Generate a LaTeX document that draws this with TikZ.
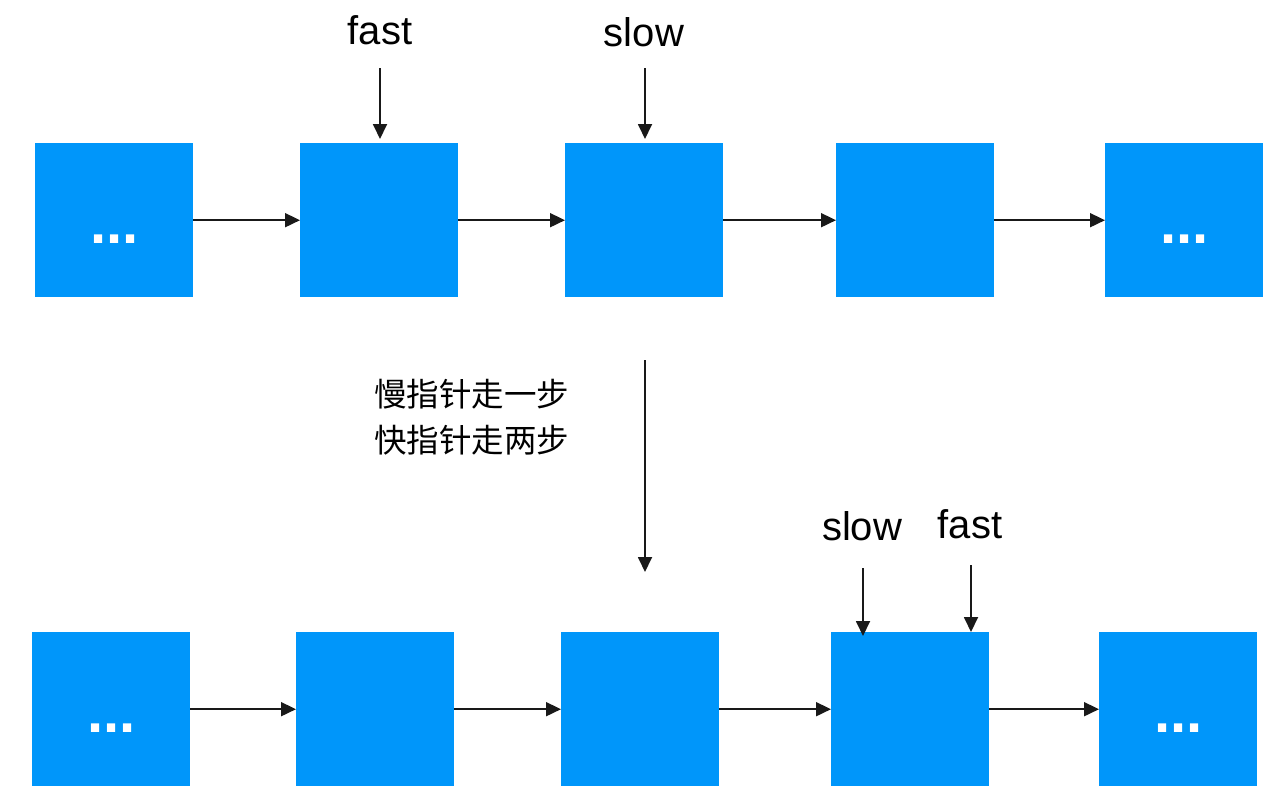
\documentclass[tikz,border=0pt]{standalone}
\usepackage{fontspec}
\setmainfont{Liberation Sans}
\newfontfamily\cjk{Noto Sans CJK SC}
\usetikzlibrary{arrows.meta}
\definecolor{boxblue}{RGB}{0,150,250}
\begin{document}
\begin{tikzpicture}[x=1pt,y=-1pt,
  cell/.style={fill=boxblue,draw=none,minimum width=158pt,minimum height=154pt,inner sep=0pt,anchor=north west},
  link/.style={line width=1.8pt,draw=black!90,-{Triangle[length=15pt,width=14pt]}},
  lbl/.style={font=\fontsize{40}{44}\selectfont,inner sep=0pt},
  dots/.style={text=white,font=\bfseries\fontsize{58}{62}\selectfont,inner sep=0pt}]
\useasboundingbox (0,0) rectangle (1274,804);
% top row
\node[cell] (t1) at (35,143) {};
\node[cell] (t2) at (300,143) {};
\node[cell] (t3) at (565,143) {};
\node[cell] (t4) at (836,143) {};
\node[cell] (t5) at (1105,143) {};
\node[dots] at ([yshift=-19pt]t1.center) {...};
\node[dots] at ([yshift=-19pt]t5.center) {...};
\draw[link] (t1.east) -- (t2.west);
\draw[link] (t2.east) -- (t3.west);
\draw[link] (t3.east) -- (t4.west);
\draw[link] (t4.east) -- (t5.west);
\node[lbl] (tf) at (380,30) {fast};
\node[lbl] (ts) at (644,32) {slow};
\coordinate (tfa) at (380,68);
\coordinate (tsa) at (645,68);
\draw[link] (tfa) -- ([yshift=4pt]tfa |- t2.north);
\draw[link] (tsa) -- ([yshift=4pt]tsa |- t3.north);
% middle
\coordinate (ma) at (645,360);
\coordinate (mb) at (645,572);
\draw[link] (ma) -- (mb);
\node[font=\cjk\fontsize{32.5}{46}\selectfont,align=left,anchor=north west,inner sep=0pt] (txt) at (374,379) {慢指针走一步\\快指针走两步};
% bottom row
\node[cell] (b1) at (32,632) {};
\node[cell] (b2) at (296,632) {};
\node[cell] (b3) at (561,632) {};
\node[cell] (b4) at (831,632) {};
\node[cell] (b5) at (1099,632) {};
\node[dots] at ([yshift=-19pt]b1.center) {...};
\node[dots] at ([yshift=-19pt]b5.center) {...};
\draw[link] (b1.east) -- (b2.west);
\draw[link] (b2.east) -- (b3.west);
\draw[link] (b3.east) -- (b4.west);
\draw[link] (b4.east) -- (b5.west);
\node[lbl] (bs) at (862,526) {slow};
\node[lbl] (bf) at (970,524) {fast};
\coordinate (bsa) at (863,568);
\coordinate (bfa) at (971,565);
\draw[link] (bsa) -- ([yshift=-4pt]bsa |- b4.north);
\draw[link] (bfa) -- (bfa |- b4.north);
\end{tikzpicture}
\end{document}
